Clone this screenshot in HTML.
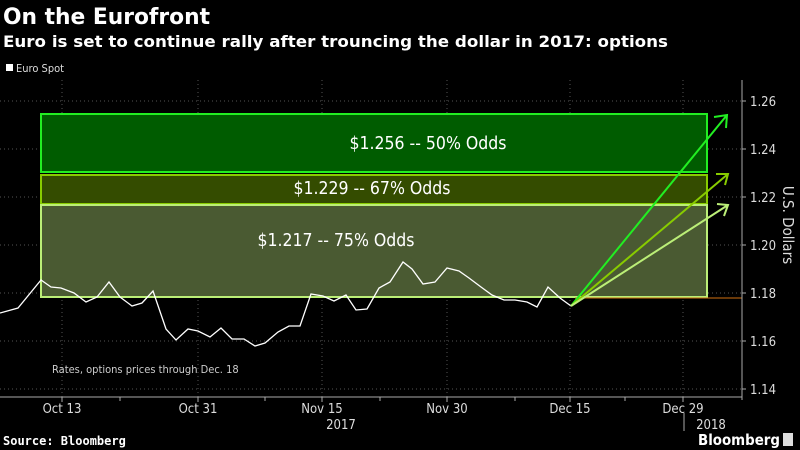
<!DOCTYPE html>
<html><head><meta charset="utf-8"><style>body{margin:0;background:#000}svg{display:block}</style></head><body>
<svg width="800" height="450" xmlns="http://www.w3.org/2000/svg" font-family="'DejaVu Sans Condensed','DejaVu Sans','Liberation Sans',sans-serif">
<rect width="800" height="450" fill="#000"/>
<text x="3" y="24" fill="#fff" font-weight="bold" font-size="22" textLength="207" lengthAdjust="spacingAndGlyphs" font-family="'DejaVu Sans',sans-serif">On the Eurofront</text>
<text x="3" y="47" fill="#fff" font-weight="bold" font-size="16" textLength="665" lengthAdjust="spacingAndGlyphs" font-family="'DejaVu Sans',sans-serif">Euro is set to continue rally after trouncing the dollar in 2017: options</text>
<rect x="6" y="64" width="7" height="7" fill="#fff"/>
<text x="16" y="72" fill="#ddd" font-size="11">Euro Spot</text>
<g stroke="#555" stroke-dasharray="1,3" stroke-width="1">
<line x1="0" y1="101" x2="742" y2="101"/><line x1="0" y1="149" x2="742" y2="149"/><line x1="0" y1="197" x2="742" y2="197"/><line x1="0" y1="245" x2="742" y2="245"/><line x1="0" y1="293" x2="742" y2="293"/><line x1="0" y1="341" x2="742" y2="341"/><line x1="0" y1="389" x2="742" y2="389"/>
<line x1="62" y1="80" x2="62" y2="397"/><line x1="198" y1="80" x2="198" y2="397"/><line x1="322" y1="80" x2="322" y2="397"/><line x1="447" y1="80" x2="447" y2="397"/><line x1="570" y1="80" x2="570" y2="397"/><line x1="683" y1="80" x2="683" y2="397"/>
</g>
<rect x="41" y="114" width="666" height="58" fill="#005c00" stroke="#22ee22" stroke-width="2"/>
<rect x="41" y="175" width="666" height="29" fill="#344c00" stroke="#88cc00" stroke-width="2"/>
<rect x="41" y="205" width="666" height="92" fill="#4a5a32" stroke="#bbee77" stroke-width="2"/>
<line x1="575" y1="298" x2="742" y2="298" stroke="#d07010" stroke-width="1"/>
<text x="428" y="149" fill="#fff" font-size="17.5" text-anchor="middle">$1.256 -- 50% Odds</text>
<text x="372" y="194" fill="#fff" font-size="17.5" text-anchor="middle">$1.229 -- 67% Odds</text>
<text x="336" y="246" fill="#fff" font-size="17.5" text-anchor="middle">$1.217 -- 75% Odds</text>
<polyline fill="none" stroke="#fff" stroke-width="1.3" points="0,313 18,308 41,280 51,287 61,288 74,293 86,302 97,297 109,282 120,297 132,306 142,303 153,291 166,329 176,340 188,329 198,331 210,337 221,328 232,339 244,339 255,346 265,343 278,332 289,326 300,326 311,294 323,296 334,301 346,295 356,310 367,309 379,288 390,282 403,262 412,269 423,284 435,282 447,268 459,271 469,278 481,287 492,295 504,300 515,300 527,302 537,307 548,287 560,298 571,306"/>
<g stroke-width="2" fill="none">
<path d="M571,306 L727,115 M714,117 L727,115 L726,128" stroke="#22ee22"/>
<path d="M571,306 L728,174 M716,174 L728,174 L725,185" stroke="#88cc00"/>
<path d="M571,306 L728,205 M717,204 L728,205 L724,216" stroke="#bbee77"/>
</g>
<text x="52" y="373" fill="#ccc" font-size="11">Rates, options prices through Dec. 18</text>
<line x1="742" y1="80" x2="742" y2="400" stroke="#aaa"/>
<line x1="0" y1="397" x2="742" y2="397" stroke="#aaa"/>
<g stroke="#aaa"><line x1="742" y1="101" x2="746" y2="101"/><line x1="742" y1="149" x2="746" y2="149"/><line x1="742" y1="197" x2="746" y2="197"/><line x1="742" y1="245" x2="746" y2="245"/><line x1="742" y1="293" x2="746" y2="293"/><line x1="742" y1="341" x2="746" y2="341"/><line x1="742" y1="389" x2="746" y2="389"/>
<line x1="62" y1="397" x2="62" y2="402"/><line x1="120" y1="397" x2="120" y2="401"/><line x1="198" y1="397" x2="198" y2="402"/><line x1="265" y1="397" x2="265" y2="401"/><line x1="322" y1="397" x2="322" y2="402"/><line x1="380" y1="397" x2="380" y2="401"/><line x1="447" y1="397" x2="447" y2="402"/><line x1="515" y1="397" x2="515" y2="401"/><line x1="570" y1="397" x2="570" y2="402"/><line x1="625" y1="397" x2="625" y2="401"/><line x1="683" y1="397" x2="683" y2="402"/>
<line x1="684" y1="413" x2="684" y2="431"/></g>
<g fill="#ddd" font-size="13">
<text x="750" y="106">1.26</text><text x="750" y="154">1.24</text><text x="750" y="202">1.22</text><text x="750" y="250">1.20</text><text x="750" y="298">1.18</text><text x="750" y="346">1.16</text><text x="750" y="394">1.14</text>
</g>
<g fill="#ddd" font-size="13" text-anchor="middle">
<text x="62" y="413">Oct 13</text><text x="198" y="413">Oct 31</text><text x="322" y="413">Nov 15</text><text x="447" y="413">Nov 30</text><text x="570" y="413">Dec 15</text><text x="683" y="413">Dec 29</text>
<text x="341" y="429">2017</text><text x="711" y="429">2018</text>
</g>
<text transform="translate(783,225) rotate(90)" fill="#ddd" font-size="15" text-anchor="middle">U.S. Dollars</text>
<text x="3" y="445" fill="#fff" font-size="12" font-weight="bold" font-family="'DejaVu Sans Mono',monospace">Source: Bloomberg</text>
<text x="698" y="445" fill="#fff" font-size="15" font-weight="bold" textLength="82" lengthAdjust="spacingAndGlyphs">Bloomberg</text>
<rect x="783" y="433" width="10" height="13" fill="#ddd"/>
</svg>
</body></html>
